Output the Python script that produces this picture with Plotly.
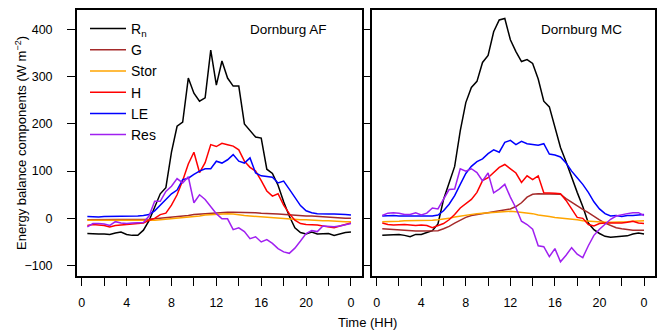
import plotly.graph_objects as go

hours = [0.5, 1, 1.5, 2, 2.5, 3, 3.5, 4, 4.5, 5, 5.5, 6, 6.5, 7, 7.5, 8,
         8.5, 9, 9.5, 10, 10.5, 11, 11.5, 12, 12.5, 13, 13.5, 14, 14.5, 15, 15.5, 16,
         16.5, 17, 17.5, 18, 18.5, 19, 19.5, 20, 20.5, 21, 21.5, 22, 22.5, 23, 23.5, 24]

series_names = ["R<sub>n</sub>", "G", "Stor", "H", "LE", "Res"]
series_colors = ["#000000", "#A52A2A", "#FFA500", "#FF0000", "#0000FF", "#A020F0"]

# ---- Dornburg AF ----
af_rn = [-32, -33, -33, -33, -34, -31, -29, -34, -36, -36, -25, -5, 25, 52, 65, 140,
         195, 204, 297, 265, 248, 255, 356, 282, 333, 297, 280, 280, 200, 185, 172, 170,
         104, 95, 70, 35, 5, -20, -30, -33, -29, -33, -32, -32, -36, -33, -30, -29]
af_g = [-3, -3, -3, -3, -3, -3, -3, -3, -3, -3, -3, -2, -1, 0, 1, 2,
        3, 5, 6, 8, 9, 10, 11, 12, 12, 13, 13, 13, 13, 12, 12, 11,
        11, 10, 9, 8, 8, 7, 6, 5, 5, 4, 3, 2, 2, 1, 0, 0]
af_stor = [-4, -4, -4, -5, -5, -5, -5, -5, -5, -5, -5, -4, -4, -3, -2, 0,
           1, 2, 3, 4, 5, 7, 8, 9, 10, 10, 9, 7, 6, 5, 4, 3,
           2, 1, 0, -1, -2, -2, -3, -3, -4, -4, -5, -5, -6, -6, -7, -7]
af_h = [-15, -13, -14, -15, -18, -15, -14, -13, -13, -12, -10, -4, 0, 8, 11, 28,
        50, 80, 115, 140, 97, 118, 156, 152, 159, 156, 153, 145, 121, 108, 100, 80,
        58, 47, 52, 28, 10, -4, -11, -13, -13, -14, -16, -18, -20, -16, -13, -10]
af_le = [4, 3, 3, 4, 4, 4, 4, 4, 4, 5, 6, 8, 16, 29, 40, 52,
         60, 82, 85, 93, 100, 105, 105, 121, 117, 124, 135, 121, 117, 128, 96, 90,
         89, 87, 75, 79, 62, 44, 27, 16, 12, 10, 9, 9, 9, 9, 8, 7]
af_res = [-18, -11, -11, -12, -15, -7, -10, -11, -10, -10, -9, 5, 36, 36, 57, 68,
          84, 75, 88, 33, 50, 40, 25, 10, -1, -1, -24, -20, -28, -43, -39, -50,
          -45, -53, -64, -71, -74, -63, -48, -32, -26, -28, -16, -17, -18, -16, -13, -11]

# ---- Dornburg MC ----
mc_rn = [-36, -35, -34, -34, -36, -39, -34, -34, -30, -26, -12, 40, 75, 110, 185, 245,
         277, 290, 330, 345, 395, 420, 423, 378, 353, 332, 336, 328, 295, 248, 236, 192,
         150, 120, 86, 55, 25, -10, -24, -32, -38, -40, -39, -38, -37, -33, -31, -33]
mc_g = [-22, -23, -24, -25, -26, -27, -27, -27, -27, -27, -26, -22, -17, -10, -4, 2,
        6, 8, 10, 13, 15, 17, 19, 20, 25, 33, 45, 51, 52, 52, 52, 52,
        51, 42, 34, 26, 19, 12, 4, -3, -10, -15, -20, -22, -24, -25, -25, -25]
mc_stor = [-7, -7, -6, -6, -5, -5, -4, -4, -4, -4, -3, -2, 0, 3, 5, 7,
           9, 10, 11, 12, 13, 14, 15, 15, 14, 13, 11, 10, 7, 6, 4, 2,
           1, 0, -1, -3, -5, -6, -7, -8, -8, -8, -8, -7, -7, -6, -5, -5]
mc_h = [-10, -13, -14, -13, -13, -14, -15, -14, -15, -20, -15, -11, -3, 8, 22, 32,
        40, 55, 80, 86, 98, 108, 114, 105, 96, 76, 90, 82, 90, 54, 54, 53,
        52, 38, 20, 2, 0, -13, -16, -11, -10, -10, -11, -10, -8, -6, -10, -11]
mc_le = [5, 6, 6, 5, 5, 4, 4, 4, 4, 5, 7, 16, 30, 48, 72, 95,
         110, 120, 126, 137, 145, 140, 161, 165, 156, 163, 158, 156, 155, 158, 136, 134,
         130, 117, 100, 86, 72, 55, 35, 20, 10, 5, 6, 4, 6, 6, 7, 8]
mc_res = [6, 11, 12, 11, 8, 8, 12, 7, 11, 22, 20, 40, 61, 62, 105, 100,
          105, 97, 79, 96, 54, 62, 72, 45, 22, -6, -13, -23, -58, -60, -81, -64,
          -92, -78, -62, -76, -83, -58, -36, -23, -13, -2, 5, 8, 10, 12, 12, 6]

panel_titles = ["Dornburg AF", "Dornburg MC"]
x_tickvals = [0, 2, 4, 6, 8, 10, 12, 14, 16, 18, 20, 22, 24]
x_ticktext = ["0", " ", "4", " ", "8", " ", "12", " ", "16", " ", "20", " ", "0"]
y_tickvals = [-100, 0, 100, 200, 300, 400]

W, H = 659, 333
FONT = "Liberation Sans, Arial, Helvetica, sans-serif"

fig = go.Figure()
af = [af_rn, af_g, af_stor, af_h, af_le, af_res]
mc = [mc_rn, mc_g, mc_stor, mc_h, mc_le, mc_res]
for name, col, ys in zip(series_names, series_colors, af):
    fig.add_trace(go.Scatter(x=hours, y=ys, mode="lines", name=name,
                             line=dict(color=col, width=1.5), xaxis="x", yaxis="y"))
for name, col, ys in zip(series_names, series_colors, mc):
    fig.add_trace(go.Scatter(x=hours, y=ys, mode="lines", name=name, showlegend=False,
                             line=dict(color=col, width=1.5), xaxis="x2", yaxis="y2"))

def px_x(p):
    return p / W

def px_y(p):
    return 1 - p / H

xr = [-0.44, 24.94]
yr = [-122, 441]
common_x = dict(range=xr, tickvals=x_tickvals, ticktext=x_ticktext, ticks="outside",
                ticklen=8, tickwidth=1.2, tickcolor="black", showline=True, mirror=True,
                linecolor="black", linewidth=1.5, showgrid=False, zeroline=False,
                tickfont=dict(family=FONT, size=12.5, color="black"),
                ticklabelstandoff=6)
common_y = dict(range=yr, tickvals=y_tickvals, ticks="outside", ticklen=8, tickwidth=1.2,
                tickcolor="black", showline=True, mirror=True, linecolor="black",
                linewidth=1.5, showgrid=False, zeroline=False,
                domain=[px_y(276), px_y(10)],
                tickfont=dict(family=FONT, size=12.5, color="black"))

fig.update_layout(
    width=W, height=H,
    margin=dict(l=0, r=0, t=0, b=0),
    paper_bgcolor="white", plot_bgcolor="white",
    font=dict(family=FONT, color="black"),
    xaxis=dict(domain=[px_x(76.8), px_x(361.5)], anchor="y", **common_x),
    xaxis2=dict(domain=[px_x(371.8), px_x(654.5)], anchor="y2", **common_x),
    yaxis=dict(anchor="x", ticklabelstandoff=12, **common_y),
    yaxis2=dict(anchor="x2", showticklabels=False, **common_y),
    legend=dict(x=px_x(85), y=px_y(13), xanchor="left", yanchor="top",
                bgcolor="rgba(0,0,0,0)", font=dict(family=FONT, size=14, color="black"),
                tracegroupgap=0, itemwidth=36),
    showlegend=True,
)

fig.add_annotation(text=panel_titles[0], x=px_x(288), y=px_y(29), xref="paper", yref="paper",
                   showarrow=False, font=dict(family=FONT, size=13.5), xanchor="center", yanchor="middle")
fig.add_annotation(text=panel_titles[1], x=px_x(581), y=px_y(29), xref="paper", yref="paper",
                   showarrow=False, font=dict(family=FONT, size=13.5), xanchor="center", yanchor="middle")
fig.add_annotation(text="Time (HH)", x=px_x(367), y=px_y(322), xref="paper", yref="paper",
                   showarrow=False, font=dict(family=FONT, size=13), xanchor="center", yanchor="middle")
fig.add_annotation(text="Energy balance components (W m<sup>−2</sup>)", x=px_x(21), y=px_y(143),
                   xref="paper", yref="paper", showarrow=False, textangle=-90,
                   font=dict(family=FONT, size=13), xanchor="center", yanchor="middle")

fig.write_html("out.html")
